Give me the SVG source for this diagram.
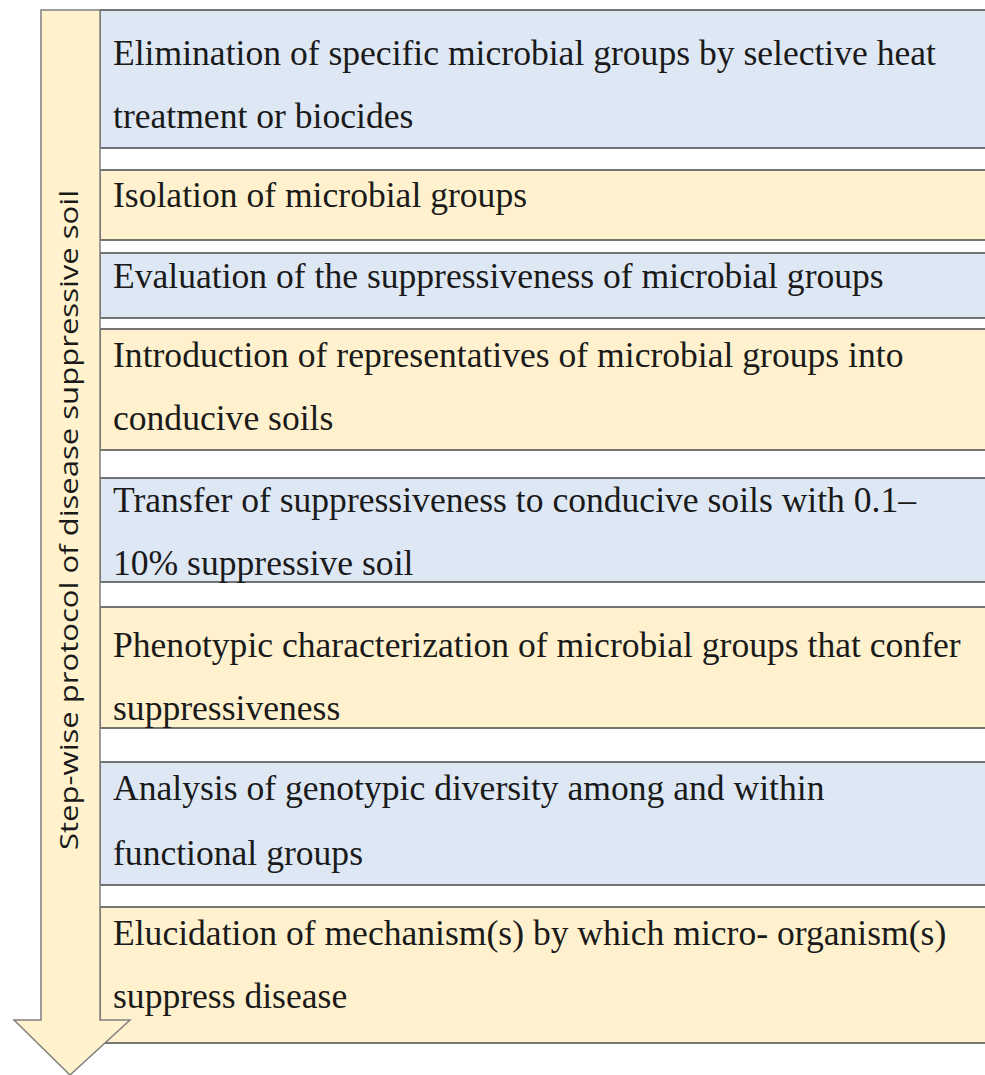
<svg xmlns="http://www.w3.org/2000/svg" width="985" height="1075" viewBox="0 0 985 1075">
<style>
.blue{fill:#dee8f5;stroke:#4a4a4a;stroke-width:1.5}
.yel{fill:#fff1cd;stroke:#4a4a4a;stroke-width:1.5}
.t{font-family:"Liberation Serif","Times New Roman",serif;font-size:35.6px;fill:#1a1a1a}
.v{font-family:"Open Sans","Liberation Sans",sans-serif;font-size:26px;fill:#1a1a1a}
</style>
<rect width="985" height="1075" fill="#ffffff"/>
<g id="connectors"></g>
<g id="step1"><rect class="blue" x="100" y="10" width="890" height="138"/>
<text class="t" x="113" y="65">Elimination of specific microbial groups by selective heat</text>
<text class="t" x="113" y="128">treatment or biocides</text></g>
<g id="step2"><rect class="yel" x="100" y="170" width="890" height="70"/>
<text class="t" x="113" y="207">Isolation of microbial  groups</text></g>
<g id="step3"><rect class="blue" x="100" y="253" width="890" height="65"/>
<text class="t" x="113" y="288">Evaluation of the suppressiveness of microbial groups</text></g>
<g id="step4"><rect class="yel" x="100" y="329" width="890" height="121"/>
<text class="t" x="113" y="367">Introduction of representatives of microbial groups into</text>
<text class="t" x="113" y="430">conducive soils</text></g>
<g id="step5"><rect class="blue" x="100" y="478" width="890" height="104"/>
<text class="t" x="113" y="512">Transfer of suppressiveness to conducive soils with 0.1–</text>
<text class="t" x="113" y="575">10% suppressive soil</text></g>
<g id="step6"><rect class="yel" x="100" y="607" width="890" height="121"/>
<text class="t" x="113" y="657">Phenotypic characterization of microbial groups that confer</text>
<text class="t" x="113" y="720">suppressiveness</text></g>
<g id="step7"><rect class="blue" x="100" y="762" width="890" height="123"/>
<text class="t" x="113" y="800">Analysis of genotypic diversity among and within</text>
<text class="t" x="113" y="865">functional groups</text></g>
<g id="step8"><rect class="yel" x="100" y="907" width="890" height="136"/>
<text class="t" x="113" y="945">Elucidation of mechanism(s) by which micro- organism(s)</text>
<text class="t" x="113" y="1008">suppress disease</text></g>
<g id="arrow">
<polygon points="41,10 100,10 100,1020 130,1020 70,1075 14,1020 41,1020" fill="#fff2cc" stroke="#808080" stroke-width="1.5"/>
<text class="v" transform="translate(78,520) rotate(-90)" text-anchor="middle" textLength="660" lengthAdjust="spacingAndGlyphs">Step-wise protocol of disease suppressive soil</text>
</g>
</svg>
